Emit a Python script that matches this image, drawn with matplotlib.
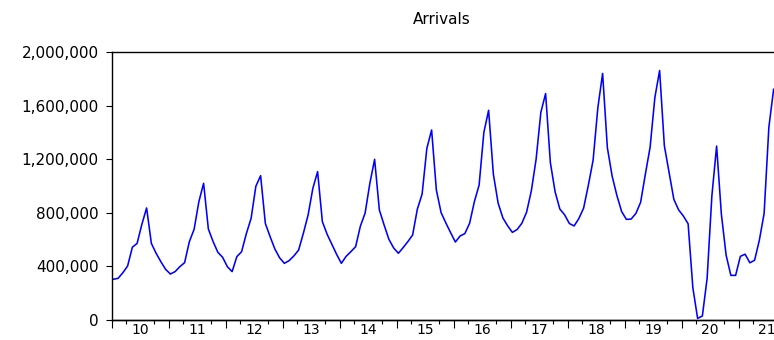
import numpy as np
import matplotlib
matplotlib.use("Agg")
import matplotlib.pyplot as plt
from matplotlib.ticker import FuncFormatter

# Monthly arrivals (thousands), Jan 2010 onwards
y2010 = [304, 311, 353, 403, 543, 572, 714, 836, 572, 498, 435, 378]
y2011 = [343, 361, 398, 428, 585, 677, 883, 1020, 679, 585, 505, 468]
y2012 = [398, 361, 473, 510, 645, 759, 998, 1077, 720, 622, 530, 464]
y2013 = [423, 443, 478, 522, 647, 784, 983, 1107, 734, 640, 565, 490]
y2014 = [423, 475, 510, 547, 700, 798, 1020, 1199, 821, 709, 603, 538]
y2015 = [498, 540, 585, 634, 828, 940, 1281, 1418, 970, 801, 724, 652]
y2016 = [582, 627, 645, 722, 883, 1007, 1400, 1565, 1088, 873, 762, 703]
y2017 = [654, 675, 722, 805, 965, 1200, 1550, 1690, 1175, 956, 828, 785]
y2018 = [720, 702, 757, 835, 1006, 1193, 1585, 1840, 1286, 1075, 930, 810]
y2019 = [751, 753, 795, 878, 1088, 1290, 1660, 1862, 1300, 1100, 900, 822]
y2020 = [776, 718, 240, 12, 30, 310, 925, 1298, 790, 484, 333, 333]
y2021 = [475, 491, 427, 446, 596, 795, 1438, 1722]

year_labels = ["10", "11", "12", "13", "14", "15", "16", "17", "18", "19", "20", "21"]
y_ticks = [0, 400000, 800000, 1200000, 1600000, 2000000]
title = "Arrivals"

values = np.array(y2010 + y2011 + y2012 + y2013 + y2014 + y2015 + y2016 +
                  y2017 + y2018 + y2019 + y2020 + y2021) * 1000.0
x = np.arange(len(values))

plt.rcParams['font.family'] = ['DejaVu Sans']

W, H = 774, 340
fig = plt.figure(figsize=(W / 100, H / 100), dpi=100)

left_px, right_px, top_px, bottom_px = 111.7, 795.7, 52, 320
ax = fig.add_axes([left_px / W, 1 - bottom_px / H,
                   (right_px - left_px) / W, (bottom_px - top_px) / H])

ax.plot(x, values, color=(0, 0, 1), lw=1.15)

offset = -0.35
n_years = len(year_labels)
ax.set_xlim(offset, offset + 12 * n_years)
ax.set_ylim(0, 2000000)

# year labels centered in year
ax.set_xticks([offset + 12 * k + 6 for k in range(n_years)])
ax.set_xticklabels(year_labels, fontsize=10)
ax.tick_params(axis='x', which='major', length=0, pad=2.5)
# quarter ticks
ax.set_xticks([offset + 3 * k for k in range(4 * n_years + 1) if k % 4 != 0], minor=True)
ax.tick_params(axis='x', which='minor', length=3, width=0.8, direction='out')

# year boundary ticks
sec = ax.secondary_xaxis('bottom')
sec.set_xticks([offset + 12 * k for k in range(n_years + 1)])
sec.set_xticklabels([])
sec.tick_params(axis='x', length=5.5, width=0.8, direction='out')
sec.spines['bottom'].set_linewidth(1.0)

ax.set_yticks(y_ticks)
ax.yaxis.set_major_formatter(FuncFormatter(lambda v, p: f"{int(v):,}"))
ax.tick_params(axis='y', length=4.5, width=0.8, direction='out', pad=5, labelsize=11)

for s in ['left', 'bottom', 'top', 'right']:
    ax.spines[s].set_linewidth(1.0)
    ax.spines[s].set_color('black')

fig.text(442 / W, 1 - 20 / H, title, ha='center', va='center', fontsize=11)

fig.savefig("out.png", dpi=100)
